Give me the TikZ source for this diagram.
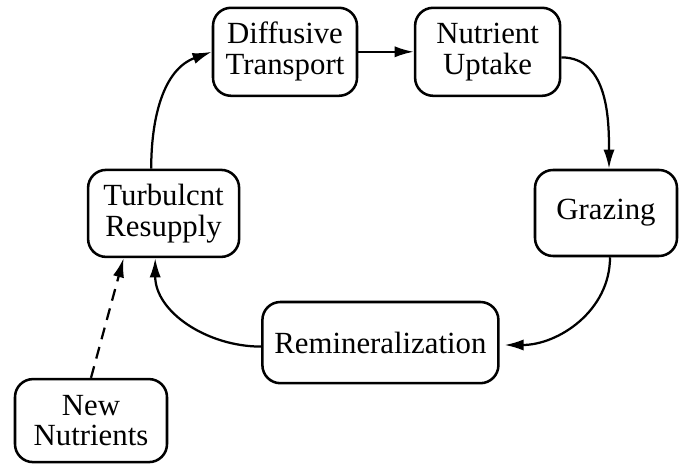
\documentclass[tikz,border=0pt]{standalone}
\usepackage{fontspec}
\setmainfont{Liberation Serif}
\usetikzlibrary{arrows.meta,positioning}

\begin{document}
\begin{tikzpicture}[
    every node/.style={align=center, font=\fontsize{21.9pt}{22pt}\selectfont},
    process/.style={draw, rounded corners=0.45cm, line width=1.8pt, minimum width=3.6cm, minimum height=2.2cm, inner xsep=0.3cm},  % boxes of the cycle
    flow/.style={line width=1.6pt, -{Latex[length=0.48cm, width=0.28cm]}},
    inflow/.style={flow, dash pattern=on 0.3cm off 0.2cm}  % supply from outside
  ]
  \useasboundingbox (0,0) rectangle (17.1,11.575);

  % Nutrient cycle
  \node[process] (diffusive) at (7.125,10.28) {Diffusive\\Transport};
  \node[process, minimum width=3.625cm] (uptake) at (12.19,10.28) {Nutrient\\Uptake};
  \node[process, minimum width=3.55cm, minimum height=2.15cm] (grazing) at (15.15,6.25) {Grazing};
  \node[process, minimum height=2.03cm] (remin) at (9.51,3.01) {Remineralization};
  \node[process, minimum width=3.775cm, minimum height=2.175cm] (turbulent) at (4.09,6.24) {Turbulcnt\\Resupply};

  % New nutrients
  \node[process, minimum width=3.8cm, minimum height=2.075cm] (new) at (2.275,1.06) {New\\Nutrients};

  \draw[flow] ([xshift=-0.31cm]turbulent.north) to[out=90, in=200] (diffusive.west);
  \draw[flow] (diffusive.east) -- (uptake.west);
  \draw[flow] ([yshift=-0.14cm]uptake.east) to[out=0, in=90] ([xshift=0.075cm]grazing.north);
  \draw[flow] ([xshift=0.1cm]grazing.south) to[out=-90, in=0] ([xshift=0.12cm, yshift=-0.06cm]remin.east);
  \draw[flow] ([yshift=-0.1cm]remin.west) to[out=180, in=-90] ([xshift=-0.21cm]turbulent.south);
  \draw[inflow] (new.north) -- ([xshift=-1.0cm]turbulent.south);
\end{tikzpicture}
\end{document}
